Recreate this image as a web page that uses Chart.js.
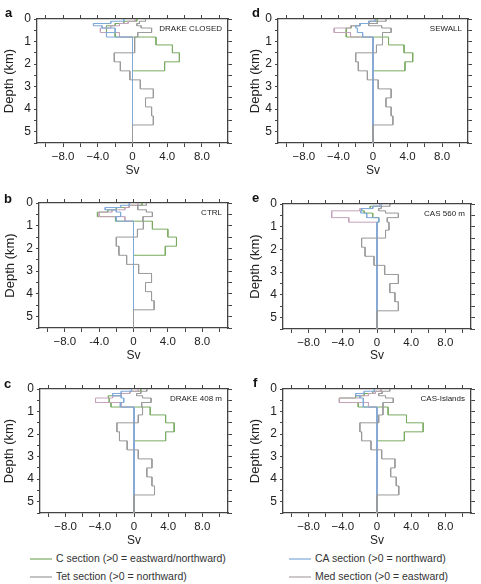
<!DOCTYPE html>
<html>
<head>
<meta charset="utf-8">
<script src="https://cdn.jsdelivr.net/npm/chart.js@4"></script>
<style>
  body { margin: 0; background: #fff; width: 481px; height: 584px; position: relative; overflow: hidden;
         font-family: "Liberation Sans", Arial, sans-serif; }
  canvas { position: absolute; }
  .tag { position: absolute; font-weight: bold; font-size: 13px; line-height: 13px; color: #111; }
  .legend { position: absolute; font-size: 10.5px; line-height: 12px; color: #333; white-space: nowrap; }
  .legend svg { vertical-align: middle; margin-right: 4px; }
</style>
</head>
<body>
<div class="legend" style="left:30px;top:552px"><svg width="22" height="4"><line x1="0" y1="2" x2="22" y2="2" stroke="#7aab62" stroke-width="1.2"/></svg>C section (&gt;0 = eastward/northward)</div>
<div class="legend" style="left:30px;top:570px"><svg width="22" height="4"><line x1="0" y1="2" x2="22" y2="2" stroke="#9a9a9a" stroke-width="1.2"/></svg>Tet section (&gt;0 = northward)</div>
<div class="legend" style="left:289px;top:552px"><svg width="22" height="4"><line x1="0" y1="2" x2="22" y2="2" stroke="#7ea9d9" stroke-width="1.2"/></svg>CA section (&gt;0 = northward)</div>
<div class="legend" style="left:289px;top:570px"><svg width="22" height="4"><line x1="0" y1="2" x2="22" y2="2" stroke="#aaa2a8" stroke-width="1.2"/></svg>Med section (&gt;0 = eastward)</div>
<script>
// model layer boundaries (km)
const depthLevels = [0, 0.1, 0.2, 0.3, 0.4, 0.6, 0.8, 1.15, 1.5, 1.9, 2.3, 2.7, 3.1, 3.5, 3.9, 4.3, 4.7, 5.5];

const xTicks = [-10, -8, -6, -4, -2, 0, 2, 4, 6, 8, 10];
const xLabelValues = [-8, -4, 0, 4, 8];
const xLabelTexts = ["\u22128.0", "\u22124.0", "0", "4.0", "8.0"];
const ctrlXLabelTexts = ["\u22128.0", "-4.0", "0", "4.0", "8.0"];
const yTicks = [0, 0.5, 1, 1.5, 2, 2.5, 3, 3.5, 4, 4.5, 5, 5.5];
const yLabelValues = [0, 1, 2, 3, 4, 5];

// panels a, b, c, d, e, f
const panelTags = ["a", "b", "c", "d", "e", "f"];
const panelNames = ["DRAKE CLOSED", "CTRL", "DRAKE 408 m", "SEWALL", "CAS 560 m", "CAS-Islands"];

// transport per layer (Sv), one row per panel
const cSection = [
  [0.5, -1.0, -2.0, -3.0, -3.0, -2.0, 2.7, 4.6, 5.4, 3.7, 0, 0, 0, 0, 0, 0, 0],
  [1.0, -0.5, -2.0, -3.0, -4.2, -2.1, 2.2, 4.0, 5.0, 3.7, 0, 0, 0, 0, 0, 0, 0],
  [0.8, -0.5, -1.5, -3.0, -2.9, -2.7, 1.9, 3.7, 4.7, 3.7, 0, 0, 0, 0, 0, 0, 0],
  [0.5, -0.5, -1.5, -2.5, -3.1, -3.1, 1.8, 3.6, 4.6, 3.7, 0, 0, 0, 0, 0, 0, 0],
  [0.3, -0.8, -1.8, -1.5, -0.5, 0.2, 0, 0, 0, 0, 0, 0, 0, 0, 0, 0, 0],
  [0.5, -0.5, -1.5, -2.5, -4.4, -2.2, 1.3, 3.45, 5.4, 3.2, 0, 0, 0, 0, 0, 0, 0]
];
const caSection = [
  [-1.0, -2.5, -4.5, -3.5, -2.0, -3.0, 0, 0, 0, 0, 0, 0, 0, 0, 0, 0, 0],
  [-0.5, -1.5, -3.3, -2.0, -1.5, -2.0, 0, 0, 0, 0, 0, 0, 0, 0, 0, 0, 0],
  [-0.3, -1.5, -2.5, -1.5, -1.2, -1.6, 0, 0, 0, 0, 0, 0, 0, 0, 0, 0, 0],
  [0.3, -0.5, -1.5, -2.0, -1.8, -1.2, 0, 0, 0, 0, 0, 0, 0, 0, 0, 0, 0],
  [0.5, -0.5, -1.8, -1.9, -1.2, 0.2, 0, 0, 0, 0, 0, 0, 0, 0, 0, 0, 0],
  [-0.3, -1.5, -2.5, -2.0, -1.6, -1.6, 0, 0, 0, 0, 0, 0, 0, 0, 0, 0, 0]
];
const tetSection = [
  [1.5, 0.8, 0.5, 1.0, 2.2, 0.6, 0.25, 0.25, -2.1, -1.4, -0.3, 0.9, 2.4, 1.5, 2.2, 2.4, 0],
  [1.5, 0.5, 0.5, 1.5, 2.2, 1.1, 1.15, 0.46, -2.0, -1.7, -0.8, 0.6, 2.1, 1.4, 2.1, 2.4, 0],
  [1.5, 0.8, 0.3, 1.0, 2.0, 0.9, 1.0, 0.5, -2.0, -1.7, -0.8, 0.5, 2.1, 1.5, 2.1, 2.4, 0],
  [1.5, 0.5, -0.5, 1.0, 2.1, 1.1, 1.1, 0.4, -2.0, -1.7, -0.65, 0.6, 2.1, 1.5, 2.1, 2.3, 0],
  [1.5, 0.5, 0.2, 1.0, 2.5, 1.2, 1.4, 1.0, -1.8, -1.4, -0.35, 0.9, 2.5, 1.5, 2.1, 2.5, 0],
  [1.5, 0.6, 0.2, 1.0, 1.9, 0.7, 0.7, 0.2, -2.0, -1.8, -0.7, 0.55, 2.1, 1.6, 2.25, 2.55, 0]
];
const medSection = [
  [0.3, -0.5, -1.5, -2.5, -3.7, -1.5, 0, 0, 0, 0, 0, 0, 0, 0, 0, 0, 0],
  [0.5, -0.5, -1.0, -2.5, -4.0, -1.0, 0, 0, 0, 0, 0, 0, 0, 0, 0, 0, 0],
  [0.5, -0.5, -1.5, -2.5, -4.5, -1.5, 0, 0, 0, 0, 0, 0, 0, 0, 0, 0, 0],
  [0.2, -0.5, -1.5, -2.6, -4.5, -2.6, 0, 0, 0, 0, 0, 0, 0, 0, 0, 0, 0],
  [0.3, -0.5, -2.0, -5.3, -5.3, -3.3, 0, 0, 0, 0, 0, 0, 0, 0, 0, 0, 0],
  [0.5, -0.2, -1.0, -2.0, -4.4, -1.0, 0, 0, 0, 0, 0, 0, 0, 0, 0, 0, 0]
];

// where each panel sits on the page (plot = left, top, right, bottom)
const panelLayout = [
  { left: 0, top: 0, w: 240, plot: [37, 19, 228, 143], tag: [5, 6], titleX: 9 },
  { left: 0, top: 185, w: 240, plot: [39, 203, 228, 328], tag: [4, 192], titleX: 10 },
  { left: 0, top: 370, w: 240, plot: [40, 389, 228, 513], tag: [4, 377], titleX: 9 },
  { left: 240, top: 0, w: 241, plot: [278, 19, 468, 143], tag: [252, 6], titleX: 15 },
  { left: 240, top: 185, w: 241, plot: [283, 204, 471, 329], tag: [252, 191], titleX: 15 },
  { left: 240, top: 370, w: 241, plot: [283, 389, 471, 513], tag: [253, 376], titleX: 15 }
];
const panelHeight = 185;

const frameColor = "#444";
const textColor = "#222";
const font = '"Liberation Sans", Arial, sans-serif';

function stepPoints(values) {
  const pts = [];
  values.forEach((v, i) => {
    pts.push({ x: v, y: depthLevels[i] });
    pts.push({ x: v, y: depthLevels[i + 1] });
  });
  return pts;
}

function profile(values, color, order) {
  return {
    data: stepPoints(values),
    showLine: true,
    borderColor: color,
    borderWidth: 1,
    pointRadius: 0,
    tension: 0,
    order: order
  };
}

const panelText = {
  id: "panelText",
  afterDatasetsDraw(chart, args, opts) {
    const { ctx, chartArea } = chart;
    ctx.save();
    ctx.font = "8px " + font;
    ctx.fillStyle = textColor;
    ctx.textAlign = "right";
    ctx.textBaseline = "middle";
    ctx.fillText(opts.text, chartArea.right - 6, chartArea.top + 10);
    ctx.restore();
  }
};

function setTicks(values) {
  return (scale) => { scale.ticks = values.map((v) => ({ value: v })); };
}

function frameGrid() {
  return { display: true, drawOnChartArea: false, drawTicks: true, tickLength: 4, color: frameColor, lineWidth: 1 };
}

panelLayout.forEach((lay, p) => {
  const [pl, pt, pr, pb] = lay.plot;
  const L = pl - lay.left, T = pt - lay.top, R = lay.left + lay.w - pr, B = lay.top + panelHeight - pb;

  const canvas = document.createElement("canvas");
  canvas.width = lay.w;
  canvas.height = panelHeight;
  canvas.style.left = lay.left + "px";
  canvas.style.top = lay.top + "px";
  document.body.appendChild(canvas);

  const tag = document.createElement("div");
  tag.className = "tag";
  tag.textContent = panelTags[p];
  tag.style.left = lay.tag[0] + "px";
  tag.style.top = lay.tag[1] + "px";
  document.body.appendChild(tag);

  const xTexts = p === 1 ? ctrlXLabelTexts : xLabelTexts;
  const border = { display: true, color: frameColor, width: 1.3 };

  new Chart(canvas.getContext("2d"), {
    type: "scatter",
    data: {
      datasets: [
        profile(tetSection[p], "#9a9a9a", 0),
        profile(caSection[p], "#7ea9d9", 1),
        profile(medSection[p], "#c4a2bb", 2),
        profile(cSection[p], "#7aab62", 3)
      ]
    },
    options: {
      responsive: false,
      animation: false,
      devicePixelRatio: 1,
      layout: { padding: 0 },
      plugins: {
        legend: { display: false },
        tooltip: { enabled: false },
        panelText: { text: panelNames[p] }
      },
      scales: {
        x: {
          type: "linear", position: "bottom", min: -11, max: 11,
          afterBuildTicks: setTicks(xTicks),
          afterFit: (s) => { s.height = B; },
          ticks: {
            autoSkip: false, maxRotation: 0, padding: 3, color: textColor,
            font: { family: font, size: 11.5 },
            callback: (v) => { const i = xLabelValues.indexOf(v); return i >= 0 ? xTexts[i] : ""; }
          },
          grid: frameGrid(),
          border: border,
          title: { display: true, text: "Sv", color: textColor, font: { family: font, size: 12 }, padding: { top: 0, bottom: 7 } }
        },
        x2: {
          type: "linear", position: "top", min: -11, max: 11,
          afterBuildTicks: setTicks(xTicks),
          afterFit: (s) => { s.height = T; },
          ticks: { display: false },
          grid: frameGrid(),
          border: border
        },
        y: {
          type: "linear", position: "left", min: 0, max: 5.5, reverse: true,
          afterBuildTicks: setTicks(yTicks),
          afterFit: (s) => { s.width = L; },
          ticks: {
            autoSkip: false, padding: 3, color: textColor,
            font: { family: font, size: 12 },
            callback: (v) => (yLabelValues.includes(v) ? String(v) : "")
          },
          grid: Object.assign(frameGrid(), { tickLength: 3 }),
          border: border,
          title: { display: true, text: "Depth (km)", color: textColor, font: { family: font, size: 13 }, padding: { top: lay.titleX - 7.8, bottom: 0 } }
        },
        y2: {
          type: "linear", position: "right", min: 0, max: 5.5, reverse: true,
          afterBuildTicks: setTicks(yTicks),
          afterFit: (s) => { s.width = R; },
          ticks: { display: false },
          grid: frameGrid(),
          border: border
        }
      }
    },
    plugins: [panelText]
  });
});
</script>
</body>
</html>
